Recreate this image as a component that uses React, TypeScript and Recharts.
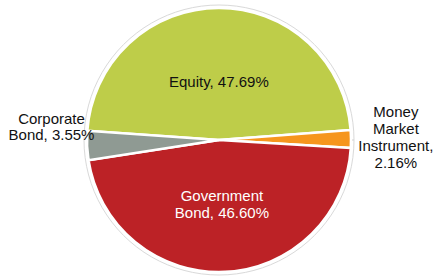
import React from 'react';
import { PieChart, Pie, Cell } from 'recharts';

const categories = ['Equity', 'Money Market Instrument', 'Government Bond', 'Corporate Bond'];
const values = [47.69, 2.16, 46.6, 3.55];
const colors = ['#BECD49', '#F6961E', '#BC2226', '#8F9A93'];
const labelLines = [
  ['Equity, 47.69%'],
  ['Money', 'Market', 'Instrument,', '2.16%'],
  ['Government', 'Bond, 46.60%'],
  ['Corporate', 'Bond, 3.55%'],
];
const labelColors = ['#111', '#111', '#fff', '#111'];
// radius factor and vertical shift per label
const labelPlace = [
  { rf: 0.45, dy: 0 },
  { rf: 1.34, dy: -2 },
  { rf: 0.48, dy: 0 },
  { rf: 1.27, dy: -21 },
];

const data = categories.map((name, i) => ({ name, value: values[i] }));
const ring = [{ name: 'ring', value: 1 }];

const RAD = Math.PI / 180;

const renderLabel = (props: any) => {
  const { cx, cy, midAngle, outerRadius, index } = props;
  const p = labelPlace[index];
  const r = outerRadius * p.rf;
  const x = cx + r * Math.cos(-midAngle * RAD);
  const y = cy + r * Math.sin(-midAngle * RAD) + p.dy;
  const lines = labelLines[index];
  const lh = 16.8;
  const y0 = y - ((lines.length - 1) * lh) / 2;
  return (
    <text
      x={x}
      y={y0}
      textAnchor="middle"
      dominantBaseline="central"
      fill={labelColors[index]}
      fontSize={15}
      fontFamily="Liberation Sans, Arial, sans-serif"
    >
      {lines.map((l, i) => (
        <tspan key={i} x={x} y={y0 + i * lh} dominantBaseline="central">
          {l}
        </tspan>
      ))}
    </text>
  );
};

export default function App() {
  return (
    <div style={{ position: 'absolute', left: 0, top: 0, width: 435, height: 278, background: '#fff' }}>
      <PieChart width={435} height={278} margin={{ top: 0, right: 0, bottom: 0, left: 0 }}>
        <Pie
          data={ring}
          dataKey="value"
          cx={219}
          cy={140}
          outerRadius={135}
          fill="#ffffff"
          stroke="#d9d9d9"
          strokeWidth={1}
          isAnimationActive={false}
        />
        <Pie
          data={data}
          dataKey="value"
          nameKey="name"
          cx={219}
          cy={140}
          outerRadius={132}
          startAngle={176}
          endAngle={-184}
          stroke="#ffffff"
          strokeWidth={2.5}
          label={renderLabel}
          labelLine={false}
          isAnimationActive={false}
        >
          {data.map((d, i) => (
            <Cell key={d.name} fill={colors[i]} />
          ))}
        </Pie>
      </PieChart>
    </div>
  );
}
